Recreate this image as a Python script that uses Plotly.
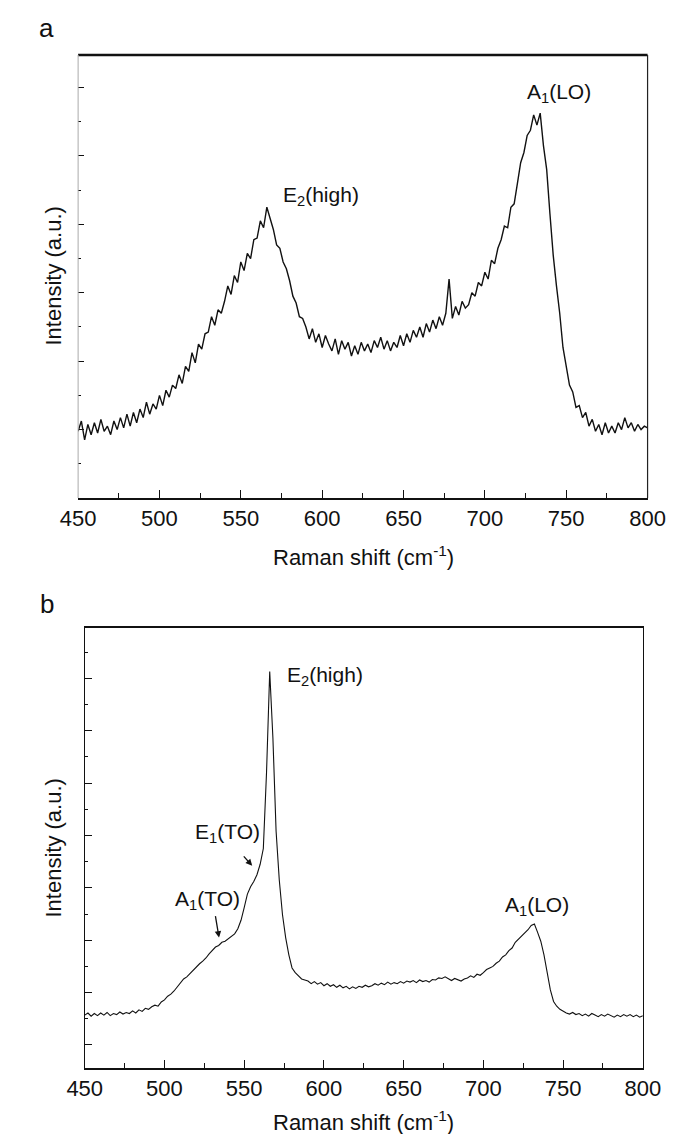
import plotly.graph_objects as go

# ---------------- data ----------------
x_a = list(range(450, 801, 2))
y_a = [
    1.95, 2.25, 1.7, 2.15, 1.85,
    2.2, 1.9, 2.3, 1.95, 2.1,
    1.85, 2.25, 2.0, 2.35, 2.05,
    2.45, 2.1, 2.5, 2.2, 2.6,
    2.35, 2.8, 2.45, 2.75, 2.6,
    3.0, 2.7, 3.15, 2.95, 3.3,
    3.2, 3.6, 3.35, 3.85, 3.7,
    4.25, 3.95, 4.5, 4.35, 4.8,
    4.85, 5.3, 5.05, 5.5, 5.4,
    5.75, 6.2, 5.95, 6.5, 6.3,
    6.9, 6.65, 7.15, 7.0, 7.55,
    7.6, 8.1, 7.9, 8.5, 8.15,
    7.85, 7.4, 7.3, 6.9, 6.7,
    6.35, 5.9, 5.7, 5.3, 5.25,
    5.0, 4.65, 4.95, 4.55, 4.8,
    4.4, 4.75, 4.5, 4.3, 4.65,
    4.2, 4.6, 4.35, 4.55, 4.15,
    4.45, 4.2, 4.55, 4.3, 4.5,
    4.25, 4.6, 4.4, 4.7, 4.35,
    4.6, 4.3, 4.55, 4.4, 4.75,
    4.45, 4.8, 4.55, 4.9, 4.7,
    5.0, 4.7, 5.1, 4.85, 5.2,
    4.95, 5.3, 5.05, 5.4, 6.4,
    5.25, 5.6, 5.35, 5.75, 5.55,
    5.65, 6.0, 5.9, 6.3, 6.2,
    6.6, 6.4, 6.95, 6.85, 7.3,
    7.55, 7.95, 7.9, 8.5, 8.6,
    9.2, 9.8, 10.1, 10.6, 10.75,
    11.2, 10.9, 11.25, 10.3, 9.6,
    8.3, 7.1, 6.2, 5.4, 4.4,
    3.8, 3.3, 3.1, 2.65, 2.7,
    2.35, 2.5, 2.1, 2.3, 1.95,
    2.15, 1.85, 2.2, 1.9, 2.1,
    1.9, 2.2, 2.0, 2.35, 2.05,
    2.2, 1.95, 2.15, 2.0, 2.1,
    2.05,
]

x_b = list(range(450, 801, 2))
y_b = [
    1.57, 1.61, 1.55, 1.6, 1.56,
    1.61, 1.57, 1.62, 1.56, 1.6,
    1.58, 1.63, 1.59, 1.62, 1.6,
    1.65, 1.61, 1.67, 1.64, 1.7,
    1.68, 1.73, 1.76, 1.74, 1.82,
    1.86, 1.93, 1.97, 2.03, 2.1,
    2.18, 2.26, 2.3, 2.36, 2.42,
    2.5, 2.55, 2.6, 2.66, 2.74,
    2.8, 2.87, 2.9, 2.96, 2.98,
    3.03, 3.08, 3.12, 3.22, 3.38,
    3.62, 3.88, 4.02, 4.12, 4.25,
    4.45, 4.75, 6.2, 8.13, 6.86,
    5.08, 4.15, 3.49, 3.05, 2.72,
    2.47, 2.38, 2.31, 2.26, 2.24,
    2.22, 2.17, 2.21, 2.16, 2.19,
    2.13, 2.17, 2.12, 2.15, 2.1,
    2.14, 2.09, 2.12, 2.07, 2.11,
    2.08, 2.12, 2.1, 2.14, 2.11,
    2.13, 2.17, 2.14, 2.18, 2.15,
    2.2, 2.16, 2.19, 2.17, 2.21,
    2.18, 2.22, 2.2, 2.23, 2.19,
    2.24, 2.21, 2.23, 2.2, 2.25,
    2.24, 2.28, 2.27, 2.3, 2.26,
    2.23, 2.27, 2.24, 2.22, 2.26,
    2.28, 2.32, 2.29, 2.35, 2.33,
    2.38, 2.44, 2.47, 2.5, 2.56,
    2.6, 2.68, 2.72, 2.8, 2.85,
    2.96, 3.02, 3.08, 3.12, 3.2,
    3.28, 3.31, 3.15, 2.98, 2.72,
    2.34, 2.05, 1.83, 1.74, 1.68,
    1.64, 1.61, 1.59, 1.62, 1.58,
    1.6, 1.56, 1.59, 1.55, 1.6,
    1.57, 1.54, 1.58, 1.55, 1.59,
    1.56, 1.53, 1.57, 1.54, 1.58,
    1.55, 1.58, 1.54, 1.57, 1.53,
    1.56,
]

x_ticks = [450, 500, 550, 600, 650, 700, 750, 800]
x_title = "Raman shift (cm<sup>-1</sup>)"
y_title = "Intensity (a.u.)"

labels_a = ["E<sub>2</sub>(high)", "A<sub>1</sub>(LO)"]
labels_a_x = [574.5, 724.5]
labels_a_y = [8.83, 11.84]

labels_b = ["E<sub>2</sub>(high)", "E<sub>1</sub>(TO)", "A<sub>1</sub>(TO)", "A<sub>1</sub>(LO)"]
labels_b_x = [575.5, 518.0, 505.5, 712.5]
labels_b_y = [8.04, 5.05, 3.77, 3.65]

# arrows in panel b: (tail x, tail y, tip x, tip y)
arrows_b = [(531.8, 3.49, 534.2, 3.05), (548.9, 4.63, 555.0, 4.42)]

# ---------------- figure ----------------
W, H = 686, 1134
FONT = "Liberation Sans, Arial, sans-serif"
FS = 22
fig = go.Figure()
fig.add_trace(go.Scatter(x=x_a, y=y_a, mode="lines", line=dict(color="#111", width=1.4),
                         xaxis="x", yaxis="y", showlegend=False))
fig.add_trace(go.Scatter(x=x_b, y=y_b, mode="lines", line=dict(color="#111", width=1.1),
                         xaxis="x2", yaxis="y2", showlegend=False))

def px_x(p):
    return p / W

def px_y(p):
    return 1 - p / H

minor_x = dict(dtick=25, tick0=0, ticks="inside", ticklen=5, tickwidth=1, tickcolor="#111", showgrid=False)
common_x = dict(range=[450, 800], tickvals=x_ticks, ticks="inside", ticklen=8, tickwidth=1.2,
                tickcolor="#111", showline=True, linecolor="#111", linewidth=1.6,
                showgrid=False, zeroline=False,
                tickfont=dict(family=FONT, size=FS, color="#111"), minor=minor_x)
common_y = dict(ticks="inside", tickcolor="#111", tickwidth=1.2, showgrid=False, zeroline=False,
                showticklabels=False)

fig.update_layout(
    width=W, height=H, margin=dict(l=0, r=0, t=0, b=0),
    paper_bgcolor="white", plot_bgcolor="white",
    font=dict(family=FONT, color="#111"),
    xaxis=dict(domain=[px_x(55), px_x(656)], anchor="y", mirror=False, **common_x),
    yaxis=dict(domain=[px_y(490), px_y(47)], anchor="x", range=[0, 12.95], tick0=0, dtick=2, ticklen=6,
               showline=False,
               minor=dict(dtick=1, tick0=0, ticks="inside", ticklen=3, tickwidth=1, tickcolor="#111",
                          showgrid=False),
               **common_y),
    xaxis2=dict(domain=[px_x(62), px_x(651)], anchor="y2", mirror=True, **common_x),
    yaxis2=dict(domain=[px_y(1060), px_y(620)], anchor="x2", range=[0.56, 8.96], tick0=0, dtick=1, ticklen=7,
                showline=True, linecolor="#111", linewidth=1.4, mirror=True,
                minor=dict(dtick=0.5, tick0=0, ticks="inside", ticklen=3, tickwidth=1, tickcolor="#111",
                           showgrid=False),
                **common_y),
)

# panel a frame: thick top, thin right, faint left
fig.add_shape(type="line", xref="x domain", yref="y domain", x0=0, x1=1, y0=1, y1=1,
              line=dict(color="#111", width=2.6))
fig.add_shape(type="line", xref="x domain", yref="y domain", x0=1, x1=1, y0=0, y1=1,
              line=dict(color="#222", width=1.2))
fig.add_shape(type="line", xref="x domain", yref="y domain", x0=0, x1=0, y0=0, y1=1,
              line=dict(color="#aaa", width=1))

ann = []
def paper_text(text, xp, yp, size, angle=0):
    return dict(text=text, x=px_x(xp), y=px_y(yp), xref="paper", yref="paper", showarrow=False,
                xanchor="center", yanchor="middle", textangle=angle,
                font=dict(size=size, family=FONT, color="#111"))

# panel letters
ann.append(paper_text("a", 22, 20, 26))
ann.append(paper_text("b", 22, 596, 26))
# axis titles
ann.append(paper_text(x_title, 356, 548, FS))
ann.append(paper_text(x_title, 356, 1113, FS))
ann.append(paper_text(y_title, 28, 268, FS, -90))
ann.append(paper_text(y_title, 28, 840, FS, -90))
# peak labels
for t, xv, yv in zip(labels_a, labels_a_x, labels_a_y):
    ann.append(dict(text=t, x=xv, y=yv, xref="x", yref="y", xanchor="left", yanchor="middle",
                    showarrow=False, font=dict(size=FS - 1, family=FONT, color="#111")))
for t, xv, yv in zip(labels_b, labels_b_x, labels_b_y):
    ann.append(dict(text=t, x=xv, y=yv, xref="x2", yref="y2", xanchor="left", yanchor="middle",
                    showarrow=False, font=dict(size=FS - 1, family=FONT, color="#111")))
for (tx, ty, hx, hy) in arrows_b:
    ann.append(dict(text="", x=hx, y=hy, ax=tx, ay=ty, xref="x2", yref="y2", axref="x2", ayref="y2",
                    showarrow=True, arrowhead=2, arrowsize=1, arrowwidth=1.3, arrowcolor="#111"))
fig.update_layout(annotations=ann)

fig.write_html("out.html")
